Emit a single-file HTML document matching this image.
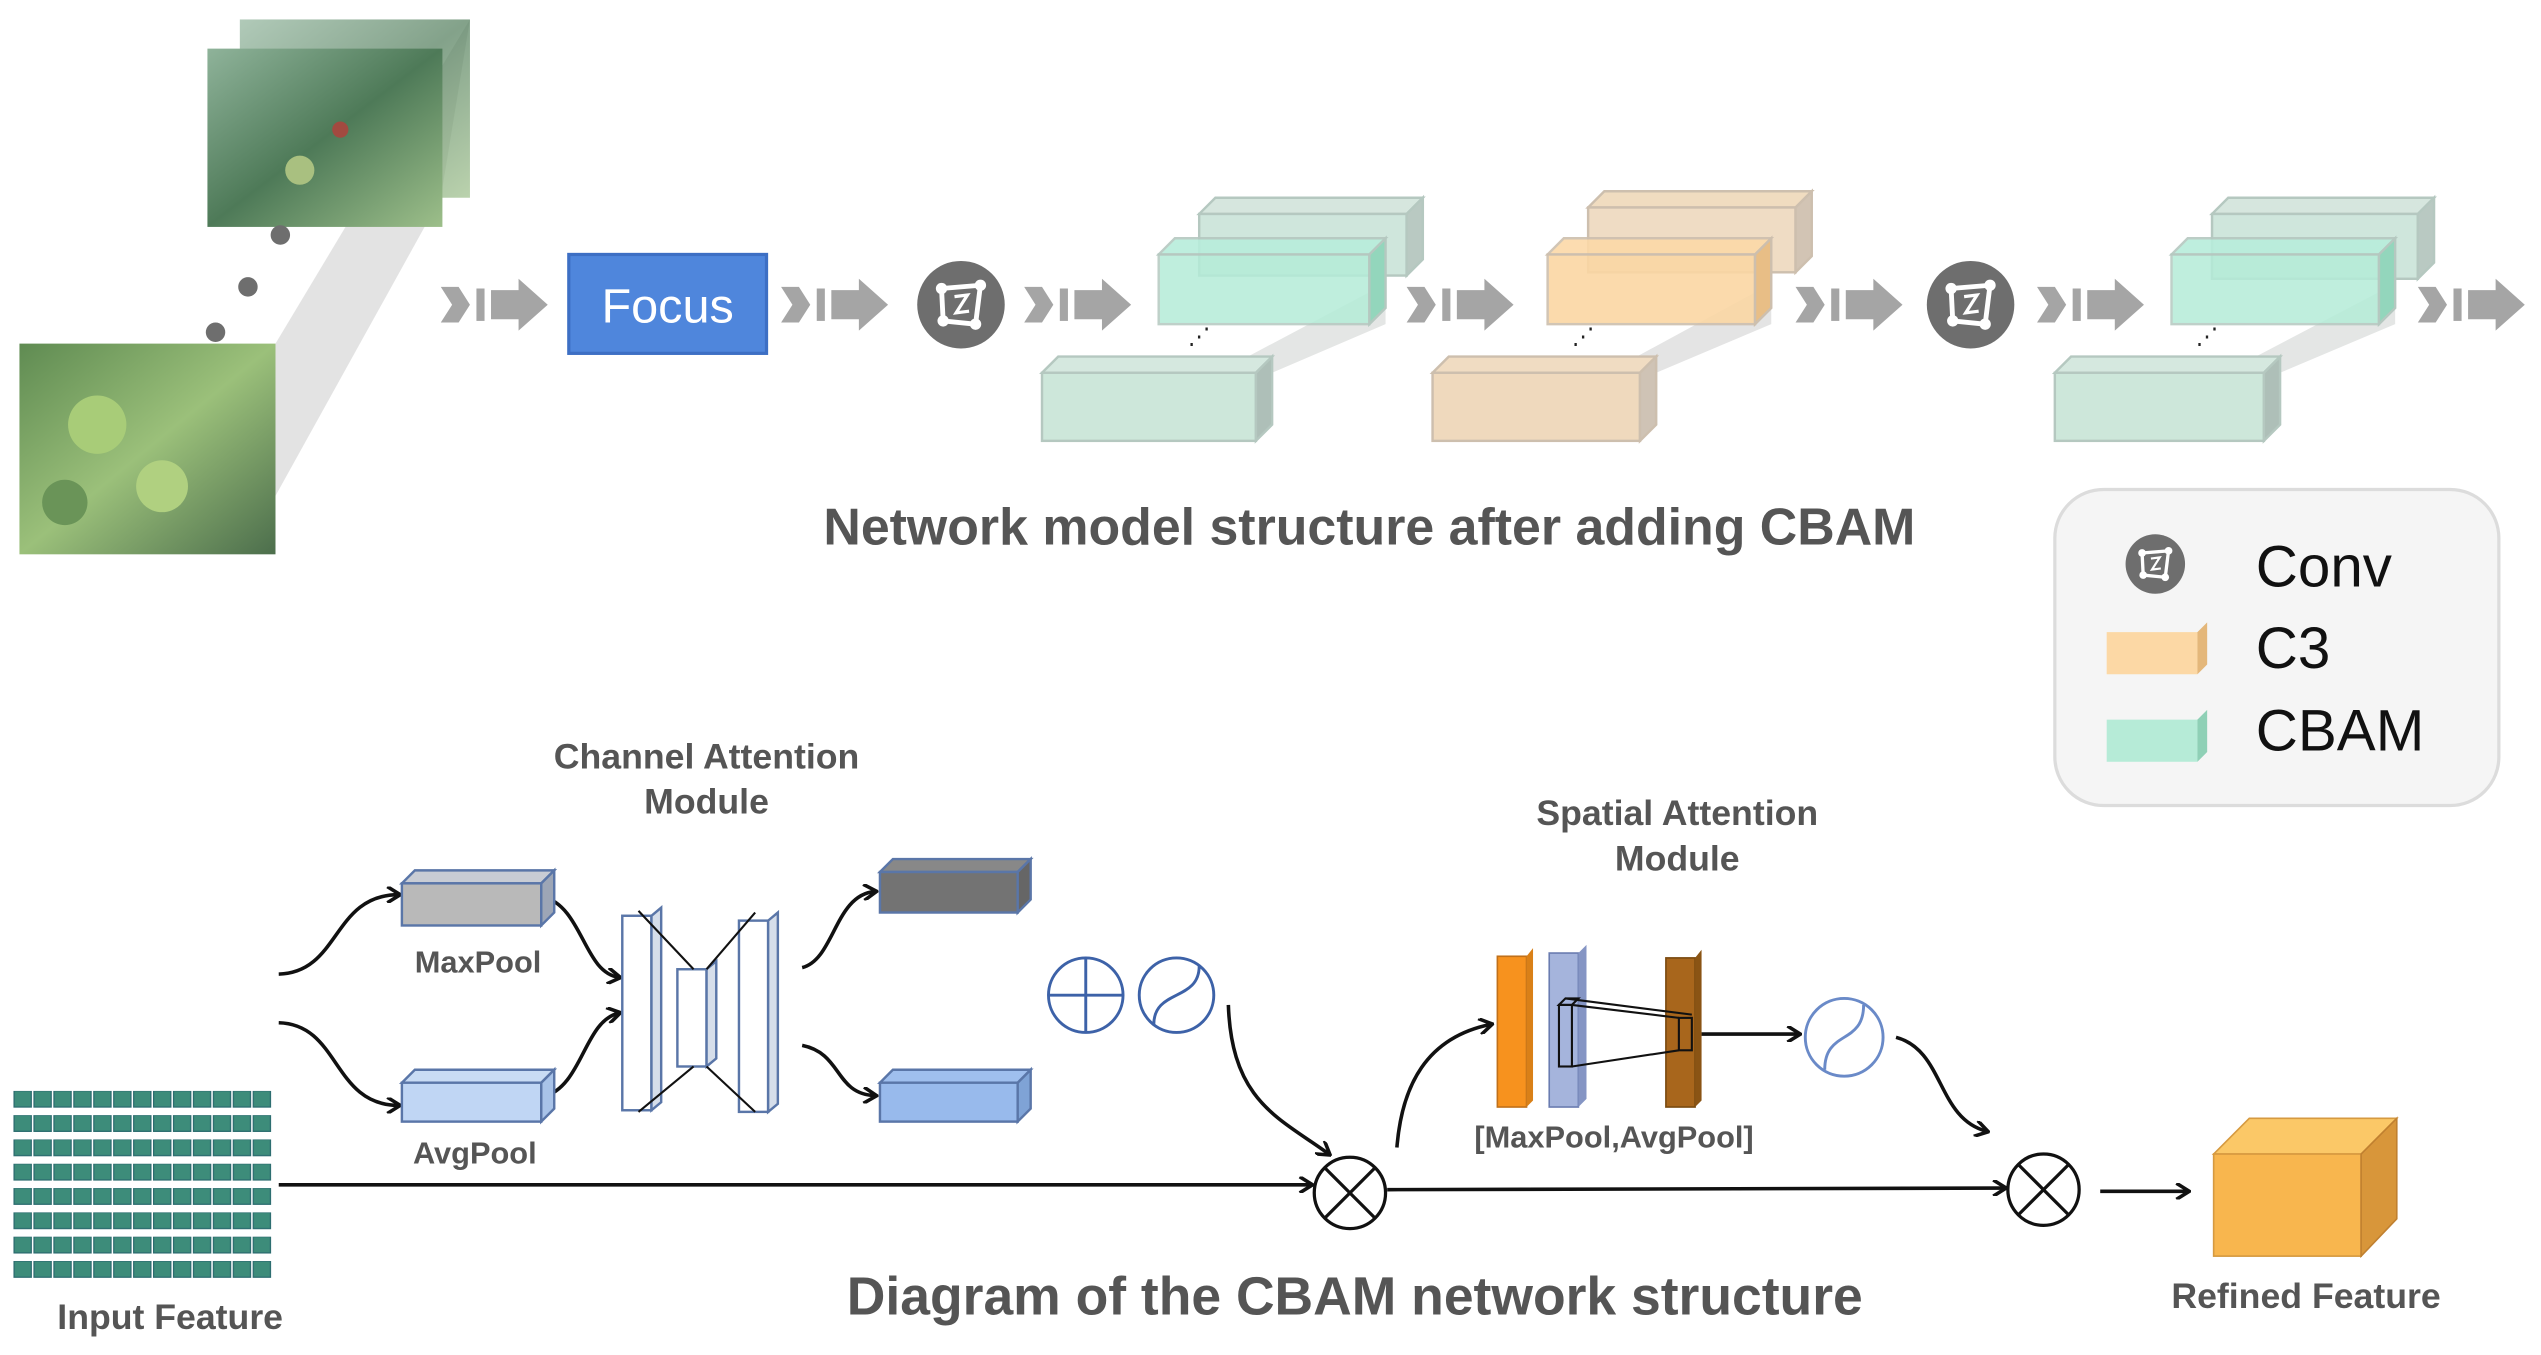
<!DOCTYPE html>
<html><head><meta charset="utf-8"><style>
html,body{margin:0;padding:0;background:#fff;}
svg{display:block;}
text{font-family:"Liberation Sans",sans-serif;}
</style></head><body>
<svg width="2541" height="1355" viewBox="0 0 1568 836" preserveAspectRatio="none" xmlns="http://www.w3.org/2000/svg">
<defs>
<g id="arr" fill="#a5a5a5">
<polygon points="0,-11 11,-11 18,0 11,11 0,11 7,0"/>
<rect x="22" y="-10" width="5" height="20"/>
<polygon points="31,-9 48,-9 48,-16 66,0 48,16 48,9 31,9"/>
</g>
<g id="conv">
<circle r="27" fill="#6e6e6e"/>
<path d="M-12,-10 L12,-12 L9,12 L-11,10 Z" fill="none" stroke="#fff" stroke-width="3"/>
<circle cx="-12" cy="-10" r="3.5" fill="#fff"/><circle cx="12" cy="-12" r="3.5" fill="#fff"/>
<circle cx="9" cy="12" r="3.5" fill="#fff"/><circle cx="-11" cy="10" r="3.5" fill="#fff"/>
<path d="M-4,-5 L4,-6 L-3,5 L5,4" fill="none" stroke="#fff" stroke-width="2"/>
</g>
<pattern id="grid" x="8" y="673" width="12.3" height="15" patternUnits="userSpaceOnUse">
<rect x="0.7" y="0" width="10.6" height="10" fill="#3d8c7a" stroke="#2c6c70" stroke-width="0.8"/>
</pattern>
<linearGradient id="ph1" x1="0" y1="0" x2="1" y2="1"><stop offset="0" stop-color="#8fb39a"/><stop offset="0.5" stop-color="#4e7a58"/><stop offset="1" stop-color="#9dbf8a"/></linearGradient>
<linearGradient id="ph2" x1="0" y1="0" x2="1" y2="1"><stop offset="0" stop-color="#5f8b52"/><stop offset="0.5" stop-color="#9bc07a"/><stop offset="1" stop-color="#4c6e4c"/></linearGradient>
<marker id="ah" markerWidth="10" markerHeight="10" refX="8" refY="5" orient="auto" markerUnits="userSpaceOnUse"><path d="M1,0 L9,5 L1,10" fill="none" stroke="#111" stroke-width="2.2"/></marker>
</defs>

<polygon points="170,212 150,342 272,122 290,12" fill="#dcdcdc" opacity="0.8"/>
<rect x="148" y="12" width="142" height="110" fill="url(#ph1)" opacity="0.7"/>
<rect x="128" y="30" width="145" height="110" fill="url(#ph1)"/>
<circle cx="185" cy="105" r="9" fill="#a9c080"/><circle cx="210" cy="80" r="5" fill="#a24a40"/>
<rect x="12" y="212" width="158" height="130" fill="url(#ph2)"/>
<circle cx="60" cy="262" r="18" fill="#a8cc78"/><circle cx="100" cy="300" r="16" fill="#b0d080"/><circle cx="40" cy="310" r="14" fill="#6a9458"/>
<circle cx="173" cy="145" r="6" fill="#6e6e6e"/><circle cx="153" cy="177" r="6" fill="#6e6e6e"/><circle cx="133" cy="205" r="6" fill="#6e6e6e"/>

<use href="#arr" x="272" y="188"/>
<rect x="351" y="157" width="122" height="61" fill="#4f86dc" stroke="#3d6fc4" stroke-width="2"/>
<text x="412" y="199" font-size="30" fill="#fff" text-anchor="middle">Focus</text>
<use href="#arr" x="482" y="188"/>
<use href="#conv" x="593" y="188"/>
<use href="#arr" x="632" y="188"/>

<g stroke="#b5c8c0" stroke-width="1.5">
<polygon points="785,230 855,200 855,175 770,220" fill="#e4e6e5" stroke="none"/>
<polygon points="740,132 750,122 878,122 868,132" fill="#d6e6de"/><rect x="740" y="132" width="128" height="38" fill="#cfe6dc"/><polygon points="868,132 878,122 878,160 868,170" fill="#b9c9c2"/>
<polygon points="715,157 725,147 855,147 845,157" fill="#b8eddb" opacity="0.9"/><rect x="715" y="157" width="130" height="43" fill="#b4ecd8" opacity="0.85"/><polygon points="845,157 855,147 855,190 845,200" fill="#93d6bc"/>
<polygon points="643,230 653,220 785,220 775,230" fill="#d5e8df"/><rect x="643" y="230" width="132" height="42" fill="#cde7da"/><polygon points="775,230 785,220 785,262 775,272" fill="#aebfb8"/>
</g>
<text x="733" y="212" font-size="14" fill="#222">⋰</text>

<use href="#arr" x="868" y="188"/>
<g stroke="#cdbfae" stroke-width="1.5">
<polygon points="1022,230 1093,200 1093,175 1010,220" fill="#e4e4e4" stroke="none"/>
<polygon points="980,128 990,118 1118,118 1108,128" fill="#f0dcc0"/><rect x="980" y="128" width="128" height="40" fill="#efdcc4"/><polygon points="1108,128 1118,118 1118,158 1108,168" fill="#d2c4b4"/>
<polygon points="955,157 965,147 1093,147 1083,157" fill="#fcd9a8" opacity="0.9"/><rect x="955" y="157" width="128" height="43" fill="#fbd7a4" opacity="0.9"/><polygon points="1083,157 1093,147 1093,190 1083,200" fill="#e8be86"/>
<polygon points="884,230 894,220 1022,220 1012,230" fill="#f0dcc2"/><rect x="884" y="230" width="128" height="42" fill="#efd9bd"/><polygon points="1012,230 1022,220 1022,262 1012,272" fill="#cfc3b5"/>
</g>
<text x="970" y="212" font-size="14" fill="#222">⋰</text>

<use href="#arr" x="1108" y="188"/>
<use href="#conv" x="1216" y="188"/>
<use href="#arr" x="1257" y="188"/>
<g stroke="#b5c8c0" stroke-width="1.5">
<polygon points="1407,230 1478,200 1478,175 1392,220" fill="#e4e6e5" stroke="none"/>
<polygon points="1365,132 1375,122 1502,122 1492,132" fill="#d6e6de"/><rect x="1365" y="132" width="127" height="40" fill="#cfe6dc"/><polygon points="1492,132 1502,122 1502,162 1492,172" fill="#b9c9c2"/>
<polygon points="1340,157 1350,147 1478,147 1468,157" fill="#b8eddb" opacity="0.9"/><rect x="1340" y="157" width="128" height="43" fill="#b4ecd8" opacity="0.85"/><polygon points="1468,157 1478,147 1478,190 1468,200" fill="#93d6bc"/>
<polygon points="1268,230 1278,220 1407,220 1397,230" fill="#d5e8df"/><rect x="1268" y="230" width="129" height="42" fill="#cde7da"/><polygon points="1397,230 1407,220 1407,262 1397,272" fill="#aebfb8"/>
</g>
<text x="1355" y="212" font-size="14" fill="#222">⋰</text>
<use href="#arr" x="1492" y="188"/>

<text x="845" y="336" font-size="32" font-weight="bold" fill="#555" text-anchor="middle">Network model structure after adding CBAM</text>

<rect x="1268" y="302" width="274" height="195" rx="30" fill="#f5f5f5" stroke="#dcdcdc" stroke-width="2"/>
<g transform="translate(1330,348) scale(0.68)"><use href="#conv"/></g>
<text x="1392" y="362" font-size="36" fill="#111">Conv</text>
<rect x="1300" y="390" width="56" height="26" fill="#fcd8a5"/><polygon points="1356,390 1362,384 1362,410 1356,416" fill="#e4b77a"/>
<text x="1392" y="412" font-size="36" fill="#111">C3</text>
<rect x="1300" y="444" width="56" height="26" fill="#b6ebd7"/><polygon points="1356,444 1362,438 1362,464 1356,470" fill="#8fd0b6"/>
<text x="1392" y="463" font-size="36" fill="#111">CBAM</text>

<text x="436" y="474" font-size="22" font-weight="bold" fill="#555" text-anchor="middle">Channel Attention</text>
<text x="436" y="502" font-size="22" font-weight="bold" fill="#555" text-anchor="middle">Module</text>
<rect x="8" y="673" width="160" height="116" fill="url(#grid)"/>
<text x="105" y="820" font-size="22" font-weight="bold" fill="#555" text-anchor="middle">Input Feature</text>

<g fill="none" stroke="#111" stroke-width="2.2">
<path d="M172,601 C210,600 205,552 246,552" marker-end="url(#ah)"/>
<path d="M172,631 C210,632 205,682 246,682" marker-end="url(#ah)"/>
<path d="M335,553 C360,560 360,600 382,603" marker-end="url(#ah)"/>
<path d="M335,677 C360,670 360,630 382,625" marker-end="url(#ah)"/>
<path d="M495,597 C515,592 515,552 540,550" marker-end="url(#ah)"/>
<path d="M495,645 C520,650 515,675 540,676" marker-end="url(#ah)"/>
<path d="M758,620 C760,680 790,690 820,712" marker-end="url(#ah)"/>
<path d="M172,731 L809,731" marker-end="url(#ah)"/>
<path d="M856,734 L1237,733" marker-end="url(#ah)"/>
<path d="M862,708 C865,670 880,640 920,632" marker-end="url(#ah)"/>
<path d="M1050,638 L1110,638" marker-end="url(#ah)"/>
<path d="M1170,640 C1200,648 1195,690 1226,698" marker-end="url(#ah)"/>
<path d="M1296,735 L1350,735" marker-end="url(#ah)"/>
</g>

<g stroke="#5a76a8" stroke-width="1.5">
<polygon points="248,545 256,537 342,537 334,545" fill="#c8ccd4"/><rect x="248" y="545" width="86" height="26" fill="#b9b9b9"/><polygon points="334,545 342,537 342,563 334,571" fill="#9da6b6"/>
<polygon points="248,668 256,660 342,660 334,668" fill="#c9dcf4"/><rect x="248" y="668" width="86" height="24" fill="#c0d6f4"/><polygon points="334,668 342,660 342,684 334,692" fill="#a9c3e8"/>
<polygon points="543,538 551,530 636,530 628,538" fill="#888"/><rect x="543" y="538" width="85" height="25" fill="#737373"/><polygon points="628,538 636,530 636,555 628,563" fill="#666"/>
<polygon points="543,668 551,660 636,660 628,668" fill="#9fbfee"/><rect x="543" y="668" width="85" height="24" fill="#98baec"/><polygon points="628,668 636,660 636,684 628,692" fill="#7fa3d6"/>
</g>
<text x="295" y="600" font-size="19" font-weight="bold" fill="#555" text-anchor="middle">MaxPool</text>
<text x="293" y="718" font-size="19" font-weight="bold" fill="#555" text-anchor="middle">AvgPool</text>

<g fill="#fff" stroke="#5a76a8" stroke-width="1.5">
<rect x="384" y="565" width="18" height="120"/><polygon points="402,565 408,560 408,680 402,685" fill="#d6deea"/>
<rect x="418" y="598" width="18" height="60"/><polygon points="436,598 442,593 442,653 436,658" fill="#d6deea"/>
<rect x="456" y="568" width="18" height="118"/><polygon points="474,568 480,563 480,681 474,686" fill="#d6deea"/>
</g>
<g stroke="#111" stroke-width="1.3">
<line x1="394" y1="562" x2="428" y2="598"/><line x1="394" y1="686" x2="428" y2="658"/>
<line x1="466" y1="563" x2="436" y2="598"/><line x1="466" y1="686" x2="436" y2="658"/>
</g>

<g fill="none" stroke="#3d62a8" stroke-width="1.8">
<circle cx="670" cy="614" r="23"/><line x1="647" y1="614" x2="693" y2="614"/><line x1="670" y1="591" x2="670" y2="637"/>
<circle cx="726" cy="614" r="23"/><path d="M712,632 C712,610 740,618 740,596"/>
<circle cx="1138" cy="640" r="24" stroke="#6a8ac8"/><path d="M1126,660 C1126,635 1150,645 1150,620" stroke="#6a8ac8"/>
</g>
<g fill="none" stroke="#111" stroke-width="2">
<circle cx="833" cy="736" r="22"/><line x1="817" y1="720" x2="849" y2="752"/><line x1="849" y1="720" x2="817" y2="752"/>
<circle cx="1261" cy="734" r="22"/><line x1="1245" y1="718" x2="1277" y2="750"/><line x1="1277" y1="718" x2="1245" y2="750"/>
</g>

<text x="1035" y="509" font-size="22" font-weight="bold" fill="#555" text-anchor="middle">Spatial Attention</text>
<text x="1035" y="537" font-size="22" font-weight="bold" fill="#555" text-anchor="middle">Module</text>
<rect x="924" y="590" width="18" height="93" fill="#f7921e" stroke="#c0701a"/><polygon points="942,590 946,585 946,679 942,683" fill="#d98018"/>
<rect x="956" y="588" width="18" height="95" fill="#a5b4dc" stroke="#6a7cb0"/><polygon points="974,588 979,583 979,678 974,683" fill="#8595c4"/>
<rect x="1028" y="591" width="18" height="92" fill="#a8661c" stroke="#7a4a10"/><polygon points="1046,591 1050,586 1050,679 1046,683" fill="#8a5414"/>
<g fill="none" stroke="#111" stroke-width="1.3">
<rect x="962" y="620" width="8" height="38"/><polygon points="962,620 966,616 974,616 970,620"/>
<rect x="1036" y="628" width="8" height="20"/>
<line x1="966" y1="616" x2="1044" y2="626"/><line x1="970" y1="620" x2="1036" y2="628"/><line x1="970" y1="658" x2="1036" y2="648"/>
</g>
<text x="996" y="708" font-size="19" font-weight="bold" fill="#555" text-anchor="middle">[MaxPool,AvgPool]</text>

<polygon points="1366,712 1388,690 1479,690 1457,712" fill="#fbc867" stroke="#d69a40"/>
<rect x="1366" y="712" width="91" height="63" fill="#f8b64e" stroke="#d69a40"/>
<polygon points="1457,712 1479,690 1479,752 1457,775" fill="#d8963a" stroke="#c08030"/>
<text x="1423" y="807" font-size="22" font-weight="bold" fill="#555" text-anchor="middle">Refined Feature</text>

<text x="836" y="811" font-size="33" font-weight="bold" fill="#555" text-anchor="middle">Diagram of the CBAM network structure</text>
</svg>
</body></html>
